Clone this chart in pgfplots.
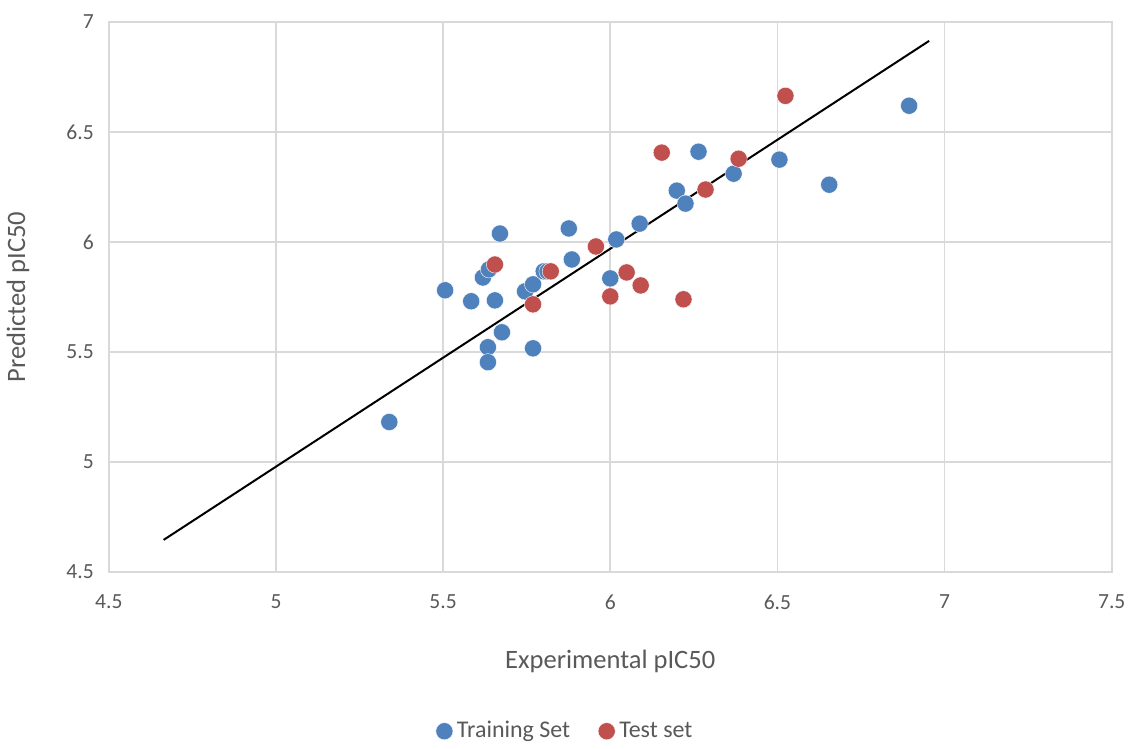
\documentclass[border=0pt]{standalone}
\usepackage{pgfplots}
\pgfplotsset{compat=1.18}
\usepackage{fontspec}
\setmainfont{Carlito}
\definecolor{tblue}{HTML}{4F81BD}
\definecolor{tred}{HTML}{C0504D}
\definecolor{gridc}{HTML}{D9D9D9}
\definecolor{txt}{HTML}{595959}
\begin{document}
\begin{tikzpicture}
\begin{axis}[
  scale only axis,
  width=502.5pt, height=275.5pt,
  xmin=4.5, xmax=7.5, ymin=4.5, ymax=7,
  xtick={4.5,5,...,7.5}, ytick={4.5,5,...,7},
  xticklabels={4.5,5,5.5,6,6.5,7,7.5},
  yticklabels={4.5,5,5.5,6,6.5,7},
  grid=major, major grid style={gridc, line width=0.8pt},
  axis line style={gridc, line width=0.8pt},
  tick style={draw=none},
  ticklabel style={font=\fontsize{10.8}{12}\selectfont, text=txt},
  xticklabel style={yshift=-8pt},
  yticklabel style={xshift=-4pt},
  xlabel={Experimental pIC50}, ylabel={Predicted pIC50},
  every axis x label/.style={at={(rel axis cs:0.5,0)}, anchor=center, yshift=-45pt, font=\fontsize{13.3}{15}\selectfont, text=txt},
  every axis y label/.style={at={(rel axis cs:0,0.5)}, xshift=-45.5pt, rotate=90, anchor=center, font=\fontsize{13.3}{15}\selectfont, text=txt},
  clip=false,
  legend style={at={(rel axis cs:0.456,-0.29)}, anchor=center, draw=none, legend columns=2,
    font=\fontsize{12}{14}\selectfont, text=txt,
    /tikz/every even column/.append style={column sep=12pt}},
  legend cell align=left,
]
\addplot[only marks, mark=*, mark size=4.3pt, mark options={draw=white, line width=0.2pt, fill=tblue}] coordinates {
(5.339,5.181) (5.506,5.780) (5.584,5.730) (5.619,5.838) (5.637,5.875)
(5.655,5.734) (5.670,6.038) (5.676,5.589) (5.634,5.521) (5.634,5.453)
(5.745,5.775) (5.769,5.807) (5.769,5.516) (5.801,5.866) (5.812,5.866)
(5.876,6.061) (5.885,5.920) (6.000,5.834) (6.018,6.011) (6.088,6.083)
(6.199,6.233) (6.225,6.174) (6.264,6.410) (6.369,6.310) (6.506,6.374)
(6.655,6.260) (6.894,6.619)
};
\addlegendentry{Training Set}
\addplot[only marks, mark=*, mark size=4.3pt, mark options={draw=white, line width=0.2pt, fill=tred}] coordinates {
(5.655,5.897) (5.769,5.716) (5.822,5.866) (5.957,5.979) (6.000,5.752)
(6.049,5.861) (6.091,5.802) (6.154,6.406) (6.219,5.739) (6.285,6.238)
(6.384,6.378) (6.524,6.664)
};
\addlegendentry{Test set}
\addplot[black, line width=1pt, forget plot] coordinates {(4.664,4.645) (6.954,6.914)};
\path (rel axis cs:-0.1085,-0.314) rectangle (rel axis cs:1.0179,1.0399);
\end{axis}
\end{tikzpicture}
\end{document}
